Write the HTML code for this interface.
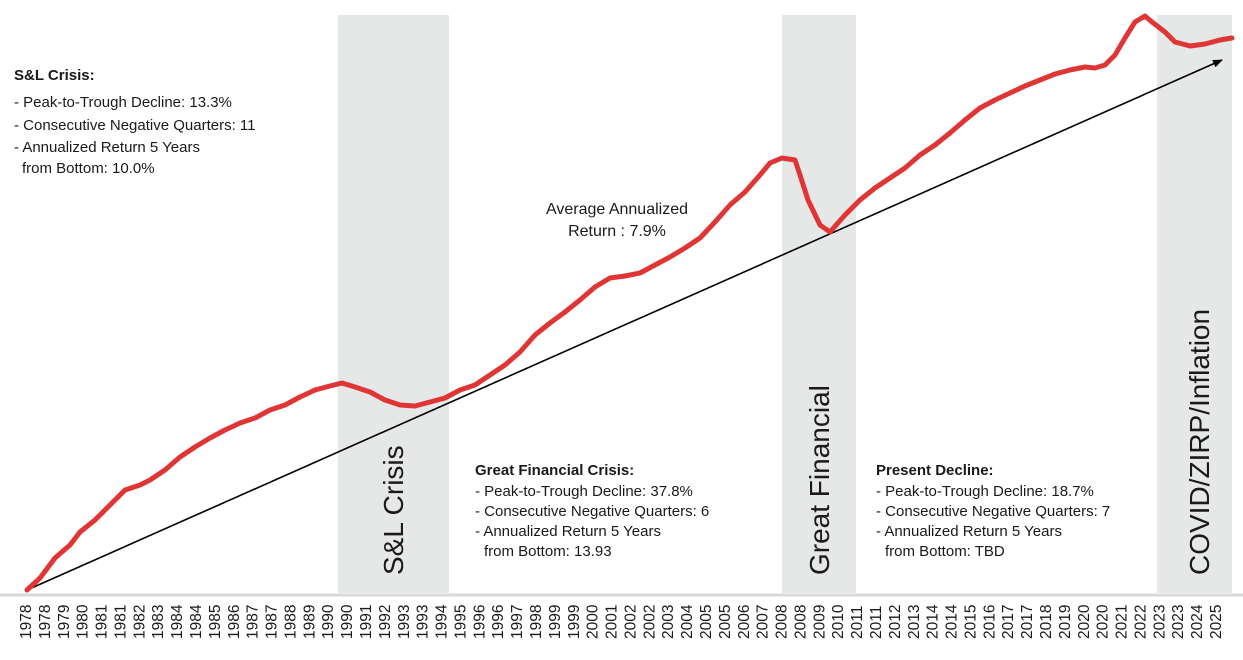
<!DOCTYPE html>
<html><head><meta charset="utf-8"><style>
html,body{margin:0;padding:0;background:#fff;width:1243px;height:660px;overflow:hidden}
svg{display:block}
text{font-family:"Liberation Sans",Arial,sans-serif;fill:#1a1a1a}
</style></head><body>
<svg width="1243" height="660" viewBox="0 0 1243 660" xmlns="http://www.w3.org/2000/svg">
<rect x="338" y="15" width="111" height="578" fill="#e6e7e7"/>
<rect x="782" y="15" width="74" height="578" fill="#e6e7e7"/>
<rect x="1157" y="15" width="75" height="578" fill="#e6e7e7"/>
<line x1="0" y1="595" x2="1243" y2="595" stroke="#d9d9d9" stroke-width="3"/>
<defs><marker id="ah" markerWidth="10" markerHeight="8" refX="9" refY="4" orient="auto" markerUnits="userSpaceOnUse"><path d="M0,0 L10,4 L0,8 z" fill="#000"/></marker></defs>
<line x1="27" y1="590" x2="1222" y2="60" stroke="#000" stroke-width="1.6" marker-end="url(#ah)"/>
<polyline fill="none" stroke="#e03535" stroke-width="5" stroke-linejoin="round" stroke-linecap="round" points="27,590 40,578 55,558 70,545 80,532 95,520 110,505 125,490 140,485 150,480 165,470 180,457 195,447 210,438 225,430 240,423 255,418 270,410 285,405 300,397 315,390 330,386 342,383 355,387 370,392 385,400 400,405 415,406 430,402 445,398 460,390 475,385 490,375 505,365 520,352 535,335 550,323 565,312 580,300 595,287 610,278 625,276 640,273 655,265 670,257 685,248 700,238 715,222 730,205 745,192 760,175 770,163 782,158 795,160 800,175 808,200 820,225 830,232 845,215 860,200 875,188 890,178 905,168 920,155 935,145 950,133 965,120 980,108 995,100 1010,93 1025,86 1040,80 1055,74 1070,70 1085,67 1095,68 1105,65 1115,55 1125,38 1135,22 1145,16 1152,22 1165,32 1175,42 1190,46 1205,44 1220,40 1232,38"/>
<g font-size="15">
<text x="14" y="80" font-weight="bold">S&amp;L Crisis:</text>
<text x="14" y="107">- Peak-to-Trough Decline: 13.3%</text>
<text x="14" y="130">- Consecutive Negative Quarters: 11</text>
<text x="14" y="152">- Annualized Return 5 Years</text>
<text x="22" y="173">from Bottom: 10.0%</text>
<text x="617" y="214" text-anchor="middle" font-size="16">Average Annualized</text>
<text x="617" y="236" text-anchor="middle" font-size="16">Return : 7.9%</text>
<text x="475" y="475" font-weight="bold">Great Financial Crisis:</text>
<text x="475" y="496">- Peak-to-Trough Decline: 37.8%</text>
<text x="475" y="516">- Consecutive Negative Quarters: 6</text>
<text x="475" y="536">- Annualized Return 5 Years</text>
<text x="484" y="556">from Bottom: 13.93</text>
<text x="876" y="475" font-weight="bold">Present Decline:</text>
<text x="876" y="496">- Peak-to-Trough Decline: 18.7%</text>
<text x="876" y="516">- Consecutive Negative Quarters: 7</text>
<text x="876" y="536">- Annualized Return 5 Years</text>
<text x="885" y="556">from Bottom: TBD</text>
</g>
<g font-size="28">
<text transform="translate(403,575) rotate(-90)">S&amp;L Crisis</text>
<text transform="translate(829,575) rotate(-90)">Great Financial</text>
<text transform="translate(1209,575) rotate(-90)">COVID/ZIRP/Inflation</text>
</g>
<g id="ticks" font-size="15.5" style="fill:#555"></g>
</svg>
<script>
var L="1978,1978,1979,1980,1981,1981,1982,1983,1984,1984,1985,1986,1987,1987,1988,1989,1990,1990,1991,1992,1993,1993,1994,1995,1996,1996,1997,1998,1999,1999,2000,2001,2002,2002,2003,2004,2005,2005,2006,2007,2008,2008,2009,2010,2011,2011,2012,2013,2014,2014,2015,2016,2017,2017,2018,2019,2020,2020,2021,2022,2023,2023,2024,2025".split(",");
var g=document.getElementById("ticks"),s=(1215-25)/(L.length-1),h="";
for(var i=0;i<L.length;i++){var x=25+i*s+6;h+='<text transform="translate('+x.toFixed(1)+',639) rotate(-90)" fill="#555">'+L[i]+'</text>';}
g.innerHTML=h;
</script>
</body></html>
